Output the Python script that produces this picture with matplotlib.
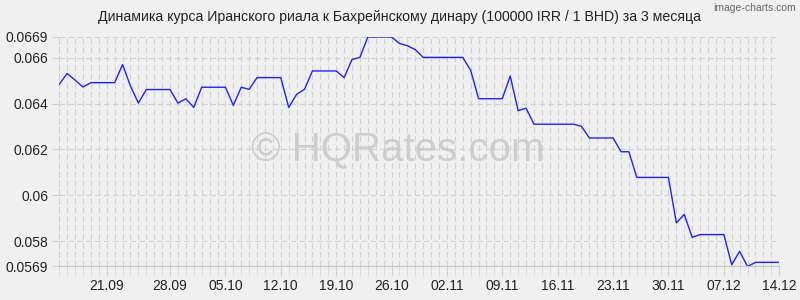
import matplotlib
matplotlib.use("Agg")
import matplotlib.pyplot as plt
import numpy as np

title = "Динамика курса Иранского риала к Бахрейнскому динару (100000 IRR / 1 BHD) за 3 месяца"

rates = [
    0.06484, 0.06531, 0.06502, 0.06472, 0.06491, 0.06491, 0.06491, 0.06491,
    0.06570, 0.06476, 0.06402, 0.06461, 0.06461, 0.06461, 0.06461, 0.06402,
    0.06421, 0.06383, 0.06471, 0.06471, 0.06471, 0.06471, 0.06392, 0.06471,
    0.06462, 0.06513, 0.06513, 0.06513, 0.06513, 0.06383, 0.06440, 0.06462,
    0.06542, 0.06542, 0.06542, 0.06542, 0.06513, 0.06592, 0.06601, 0.06690,
    0.06690, 0.06690, 0.06690, 0.06662, 0.06652, 0.06635, 0.06601, 0.06601,
    0.06601, 0.06601, 0.06601, 0.06601, 0.06545, 0.06421, 0.06421, 0.06421,
    0.06421, 0.06520, 0.06369, 0.06380, 0.06310, 0.06310, 0.06310, 0.06310,
    0.06310, 0.06310, 0.06301, 0.06250, 0.06250, 0.06250, 0.06250, 0.06190,
    0.06190, 0.06078, 0.06078, 0.06078, 0.06078, 0.06078, 0.05880, 0.05917,
    0.05817, 0.05829, 0.05829, 0.05829, 0.05829, 0.05698, 0.05756, 0.05690,
    0.05708, 0.05708, 0.05708, 0.05708,
]

x_tick_labels = ["21.09", "28.09", "05.10", "12.10", "19.10", "26.10", "02.11",
                 "09.11", "16.11", "23.11", "30.11", "07.12", "14.12"]
x_tick_index = [6, 14, 21, 28, 35, 42, 49, 56, 63, 70, 77, 84, 91]

y_ticks = [0.0569, 0.058, 0.060, 0.062, 0.064, 0.066, 0.0669]
y_tick_labels = ["0.0569", "0.058", "0.06", "0.062", "0.064", "0.066", "0.0669"]

plt.rcParams['font.family'] = ['Liberation Sans', 'DejaVu Sans']

bg = "#f0f0f0"
fig = plt.figure(figsize=(8, 3), dpi=100, facecolor=bg)
ax = fig.add_axes([0.0741, 0.1117, 0.8999, 0.765])
ax.set_facecolor(bg)

xs = np.arange(len(rates))
ax.plot(xs, rates, color="#2020ff", lw=1.0, zorder=3)

ax.set_xlim(0, len(rates) - 1)
ax.set_ylim(0.0569, 0.0669)

ax.set_xticks(x_tick_index)
ax.set_xticklabels(x_tick_labels)
ax.set_xticks(xs, minor=True)
ax.set_yticks(y_ticks)
ax.set_yticklabels(y_tick_labels)

grid_kw = dict(color="#d2d2d2", lw=0.8, linestyle=(0, (5, 3)))
ax.grid(True, which="both", axis="x", **grid_kw)
ax.grid(True, which="major", axis="y", **grid_kw)
ax.set_axisbelow(True)

for s in ["top", "right"]:
    ax.spines[s].set_visible(False)
ax.spines["left"].set_color("#cfcfcf")
ax.spines["left"].set_linestyle((0, (5, 3)))
ax.spines["bottom"].set_color("#c4c4c4")

ax.tick_params(axis="x", which="major", length=7, color="#cfcfcf", labelsize=10, pad=2, labelcolor="#222222")
ax.tick_params(axis="x", which="minor", length=7, color="#dadada")
ax.tick_params(axis="y", which="major", length=5, color="#cfcfcf", labelsize=10, pad=3, labelcolor="#222222")

fig.text(0.5, 0.942, title, ha="center", va="center", fontsize=10.2, color="#222222")
fig.text(0.995, 0.972, "image-charts.com", ha="right", va="center", fontsize=7.5, color="#666666")
fig.text(0.497, 0.5, "© HQRates.com", ha="center", va="center", fontsize=29,
         color="#c8c8c8", alpha=0.85, zorder=5)

fig.savefig("out.png", dpi=100, facecolor=bg)
